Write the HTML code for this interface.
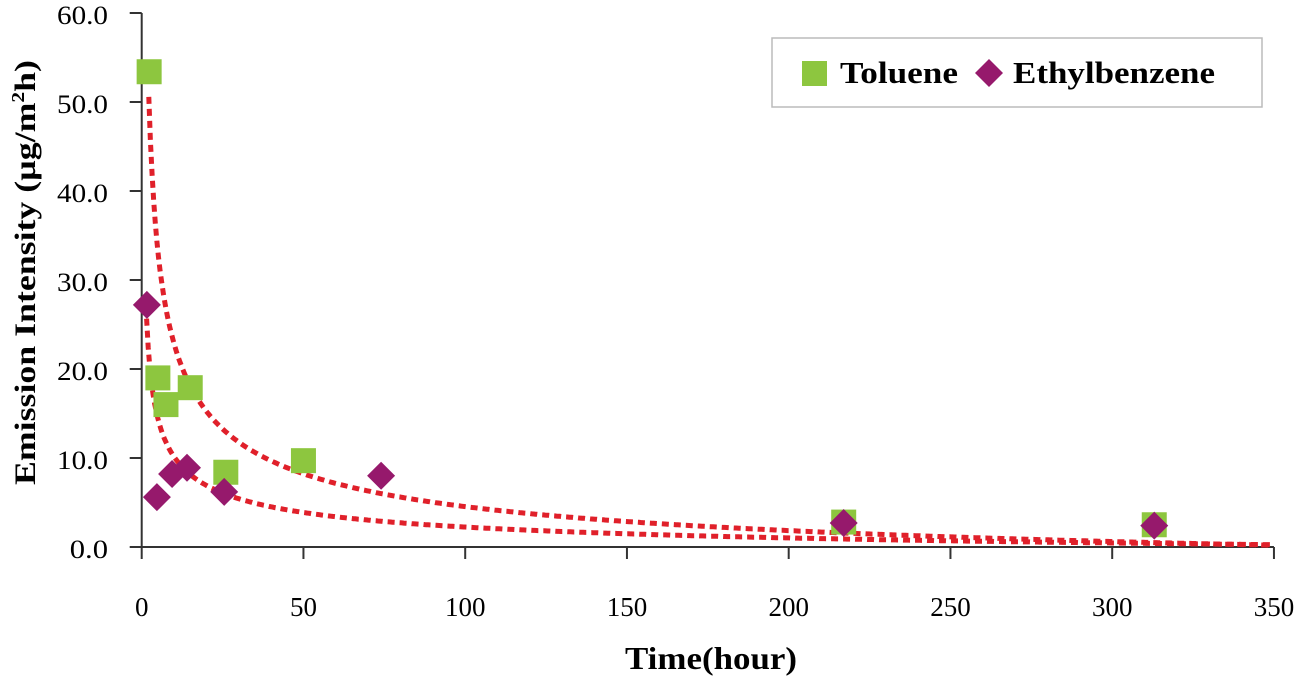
<!DOCTYPE html>
<html><head><meta charset="utf-8"><style>
body{margin:0;background:#fff;}
svg{display:block;font-family:"Liberation Serif",serif;}
</style></head><body>
<svg id="chart" width="1300" height="679">
<g id="axes"></g><g id="lines"></g><g id="marks"></g>
<g>
<rect x="772" y="38" width="490" height="69" fill="#fff" stroke="#bbb" stroke-width="1.5"/>
<rect x="802" y="61" width="25" height="25" fill="#8dc63f"/>
<text x="840" y="83" font-size="31" font-weight="bold" textLength="118" lengthAdjust="spacingAndGlyphs">Toluene</text>
<polygon points="989,59 1003,73 989,87 975,73" fill="#96196c"/>
<text x="1013" y="83" font-size="31" font-weight="bold" textLength="202" lengthAdjust="spacingAndGlyphs">Ethylbenzene</text>
</g>
<text x="625" y="669" font-size="32" font-weight="bold" textLength="172" lengthAdjust="spacingAndGlyphs">Time(hour)</text>
<text transform="translate(35,485) rotate(-90)" font-size="30" font-weight="bold" textLength="425" lengthAdjust="spacingAndGlyphs">Emission Intensity (µg/m<tspan font-size="18" dy="-11">2</tspan><tspan dy="11">h)</tspan></text>
</svg>
<script>
const xTicks=[0,50,100,150,200,250,300,350];
const yTicks=[0,10,20,30,40,50,60];
const tolX=[2.3,5,7.5,15,26,50,217,313];
const tolY=[53.4,19,16,17.9,8.4,9.7,2.8,2.5];
const ethX=[1.6,4.7,9.4,14,25.5,74,217,313];
const ethY=[27.2,5.6,8.2,8.9,6.2,8.0,2.7,2.4];
const tolFit=[80,0.45,-5.53,2.2];
const ethFit=[33.5,0.42,-2.6,1.5];
const NS="http://www.w3.org/2000/svg";
const X=v=>141.7+v*3.235;
const Y=v=>547-v*8.9;
function mk(tag,attrs,parent){const e=document.createElementNS(NS,tag);for(const k in attrs)e.setAttribute(k,attrs[k]);document.getElementById(parent).appendChild(e);return e;}
let e;
e=mk('line',{x1:X(0),y1:Y(0),x2:X(350),y2:Y(0),stroke:'#333','stroke-width':2},'axes');


e=mk('line',{x1:X(0),y1:Y(0),x2:X(0),y2:Y(60),stroke:'#333','stroke-width':2},'axes');


xTicks.forEach(t=>{
 e=mk('line',{x1:X(t),y1:Y(0),x2:X(t),y2:Y(0)+12,stroke:'#333','stroke-width':2},'axes');
 
 
 e=mk('text',{x:X(t),y:616,'text-anchor':'middle','font-size':27},'axes');e.textContent=t;
 
 
});
yTicks.forEach(t=>{
 e=mk('line',{x1:X(0)-12,y1:Y(t),x2:X(0),y2:Y(t),stroke:'#333','stroke-width':2},'axes');
 
 
 const s=t.toFixed(1);
 e=mk('text',{x:108,y:Y(t)+11,'text-anchor':'end','font-size':26,textLength:s.length*12.75,lengthAdjust:'spacingAndGlyphs'},'axes');e.textContent=s;
 
 
});
function fitPath(f){let d='';for(let x=f[3];x<=350;x+=0.5){const y=f[0]*Math.pow(x,-f[1])+f[2];d+=(d?'L':'M')+X(x).toFixed(1)+','+Y(Math.max(y,0)).toFixed(1);}return d;}
e=mk('path',{d:fitPath(tolFit),fill:'none',stroke:'#e0202a','stroke-width':5,'stroke-dasharray':'7 5'},'lines');


e=mk('path',{d:fitPath(ethFit),fill:'none',stroke:'#e0202a','stroke-width':5,'stroke-dasharray':'7 5'},'lines');


tolX.forEach((x,i)=>{
 e=mk('rect',{x:X(x)-12.5,y:Y(tolY[i])-12.5,width:25,height:25,fill:'#8dc63f'},'marks');
 
 
});
ethX.forEach((x,i)=>{
 const cx=X(x),cy=Y(ethY[i]);
 e=mk('polygon',{points:`${cx},${cy-14} ${cx+14},${cy} ${cx},${cy+14} ${cx-14},${cy}`,fill:'#96196c'},'marks');
 
 
});
</script>
</body></html>
